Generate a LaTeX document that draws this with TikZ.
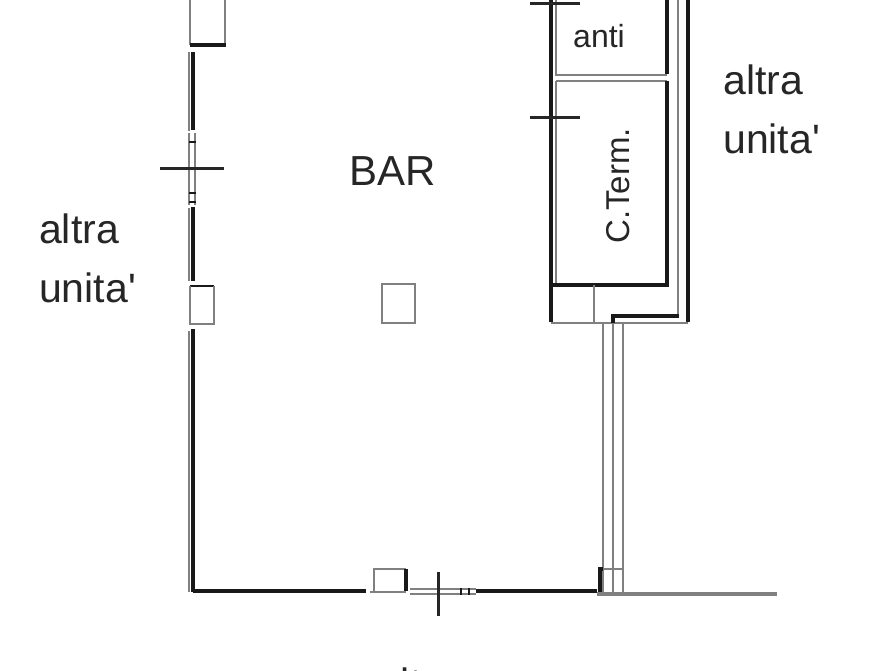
\documentclass[tikz,border=0pt]{standalone}
\usepackage{fontspec}
\setmainfont{Liberation Sans}
\tikzset{
  blk/.style={draw=black!90,line width=3.8pt},
  gry/.style={draw=black!50,line width=2.8pt},
  tick/.style={draw=black!85,line width=3pt},
  lbl/.style={inner sep=0pt,text=black!85,font=\fontsize{41}{59}\selectfont,align=left},
}
\begin{document}
\begin{tikzpicture}[x=1pt,y=-1pt]
\useasboundingbox (0,0) rectangle (893,670);
\clip (0,0) rectangle (893,670);
% left wall
\draw[gry] (190,0) -- (190,45) (225,0) -- (225,45);
\draw[blk] (190,45) -- (226,45);
\draw[gry] (189,52) -- (189,131);
\draw[blk] (193,52) -- (193,130);
\draw[gry] (189,133) -- (189,205) (195,133) -- (195,205);
\draw[blk,line width=2.6pt] (189,142) -- (196,142) (189,193) -- (196,193) (189,202) -- (196,202);
\draw[tick] (160,168) -- (224,168);
\draw[gry] (189,208) -- (189,281);
\draw[blk] (193,207) -- (193,281);
\draw[blk,line width=2.8pt] (190,286) -- (214,286);
\draw[gry] (190,286) -- (190,324) -- (214,324) -- (214,286);
\draw[gry] (189,331) -- (189,592);
\draw[blk] (193,329) -- (193,592);
% bottom wall
\draw[blk] (193,591) -- (366,591);
\draw[gry] (374,591) -- (374,569) -- (406,569);
\draw[blk,line width=3.2pt] (406,569) -- (406,591);
\draw[gry] (370,592) -- (406,592);
\draw[gry] (410,589) -- (476,589) (410,594) -- (476,594);
\draw[tick] (438,572) -- (438,616);
\draw[blk,line width=2.6pt] (461,588) -- (461,595) (469,588) -- (469,595);
\draw[blk] (476,591) -- (597,591);
% pillar
\draw[gry] (382,284) rectangle (415,323);
% service rooms
\draw[blk] (551,0) -- (551,322);
\draw[gry] (556,0) -- (556,75) -- (667,75);
\draw[blk] (667,0) -- (667,74);
\draw[gry] (556,81) -- (667,81) (556,81) -- (556,284);
\draw[blk] (667,81) -- (667,285) -- (551,285);
\draw[tick] (530,3) -- (580,3) (530,117) -- (580,117);
\draw[gry] (678,0) -- (678,317);
\draw[blk] (688,0) -- (688,322);
\draw[gry] (551,323) -- (688,323);
\draw[gry] (594,285) -- (594,323);
\draw[blk] (679,316) -- (613,316) -- (613,323);
% corridor
\draw[gry] (603,323) -- (603,594) (613,323) -- (613,594) (623,323) -- (623,594);
\draw[blk] (600,592) -- (600,569) -- (603,569);
\draw[gry] (603,569) -- (623,569);
\draw[gry,line width=3.2pt] (597,594) -- (777,594);
% labels
\node[lbl,font=\fontsize{42}{50}\selectfont] (bar) at (392.5,171) {BAR};
\node[lbl,anchor=west] (left) at (39,258) {altra\\unita\textquotesingle};
\node[lbl,anchor=west] (right) at (723,109) {altra\\unita\textquotesingle};
\node[lbl,font=\fontsize{32}{38}\selectfont] (anti) at (599,36) {anti};
\node[lbl,font=\fontsize{33}{40}\selectfont,rotate=90] (cterm) at (618,186) {C.Term.};
\node[lbl,anchor=base] (bottom) at (418,697) {altra};
\end{tikzpicture}
\end{document}
